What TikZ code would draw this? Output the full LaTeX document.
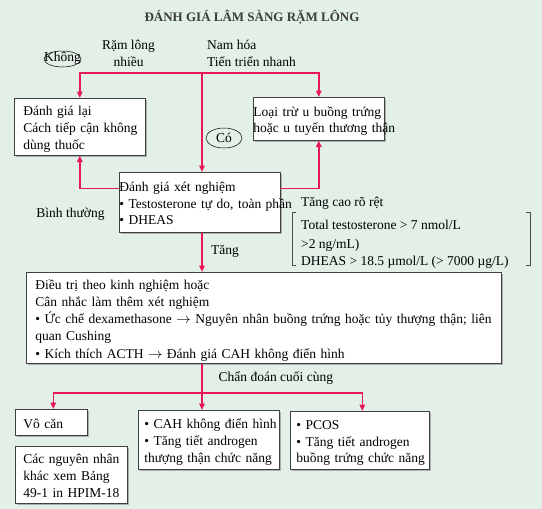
\documentclass[tikz,border=0pt]{standalone}
\usepackage{fontspec}
\setmainfont{Liberation Serif}
\usepackage{tikz}
\usetikzlibrary{shapes.geometric, arrows.meta, positioning, shadows, calc}
\definecolor{nenXanh}{RGB}{226,240,231}
\definecolor{doMuiTen}{RGB}{232,24,86}
\definecolor{chuTieuDe}{RGB}{60,60,60}
\newcommand{\dong}[1]{\raisebox{-2.5pt}[\height][\depth]{\begin{tabular}{@{}l@{}}#1\end{tabular}}}
\tikzset{
  cd/box/.style={rectangle, draw=black!75, fill=white, line width=0.6pt,
    anchor=north west, inner ysep=0pt,
    font=\fontsize{13.5}{16.7}\selectfont,
    drop shadow={shadow xshift=2pt, shadow yshift=-2pt, fill=black!55}},
  cd/oval/.style={draw=black, line width=0.5pt},
  cd/lbl/.style={inner sep=0pt, align=left, font=\fontsize{13.5}{16.5}\selectfont},
  cd/arr/.style={-{Triangle[length=6.5pt,width=5.5pt]}, line width=1.6pt,
    draw=doMuiTen},
  cd/line/.style={line width=1.6pt, draw=doMuiTen},
  cd/brk/.style={line width=0.6pt, draw=black!70}
}
\begin{document}
\begin{tikzpicture}[x=1pt, y=-1pt]
  \fill[nenXanh] (0,0) rectangle (542,509);
  \useasboundingbox (0,0) rectangle (542,509);

  % tieu de va nhan phia tren
  \node[cd/lbl, font=\fontsize{13}{15}\selectfont\bfseries\color{chuTieuDe}]
    (tieude) at (252,17) {ĐÁNH GIÁ LÂM SÀNG RẶM LÔNG};
  \node[cd/lbl, align=center] (ramlong) at (128.5,53.5) {Rặm lông\\nhiều};
  \node[cd/lbl, anchor=west] (namhoa) at (207,53.5) {Nam hóa\\Tiến triển nhanh};
  \node[cd/lbl] (khong) at (62.5,58.5) {Không};
  \draw[cd/oval] (62.5,59) ellipse [x radius=18.5, y radius=8];
  \node[cd/lbl] (co) at (224,138) {Có};
  \draw[cd/oval] (224,138) ellipse [x radius=18, y radius=10];

  % cac hop
  \node[cd/box, text width=113pt, inner xsep=9pt, minimum height=57pt]
    (danhgialai) at (14,98) {\dong{Đánh giá lại\\Cách tiếp cận không\\dùng thuốc}};
  \node[cd/box, text width=131pt, inner xsep=0pt, minimum height=43pt]
    (loaitru) at (253,97) {\dong{Loại trừ u buồng trứng\\hoặc u tuyến thương thận}};
  \node[cd/box, text width=160pt, inner xsep=0.5pt, minimum height=60pt]
    (xetnghiem) at (118.5,172) {\dong{Đánh giá xét nghiệm\\• Testosterone tự do, toàn phần\\• DHEAS}};
  \node[cd/box, text width=457pt, inner xsep=9pt, minimum height=91pt,
    font=\fontsize{13.5}{17.2}\selectfont]
    (dieutri) at (26,272) {\dong{Điều trị theo kinh nghiệm hoặc\\Cân nhắc làm thêm xét nghiệm\\
      • Ức chế dexamethasone $\rightarrow$ Nguyên nhân buồng trứng hoặc tủy thượng thận; liên\\
      quan Cushing\\• Kích thích ACTH $\rightarrow$ Đánh giá CAH không điển hình}};
  \node[cd/box, text width=56pt, inner xsep=8pt, minimum height=26pt]
    (vocan) at (15,409) {\dong{Vô căn}};
  \node[cd/box, text width=96pt, inner xsep=8pt, minimum height=57pt]
    (khac) at (15,446) {\dong{Các nguyên nhân\\khác xem Bảng\\49-1 in HPIM-18}};
  \node[cd/box, text width=129pt, inner xsep=6pt, minimum height=59pt]
    (cah) at (138,410) {\dong{• CAH không điển hình\\• Tăng tiết androgen\\thượng thận chức năng}};
  \node[cd/box, text width=127pt, inner xsep=6pt, minimum height=58pt]
    (pcos) at (290,411) {\dong{• PCOS\\• Tăng tiết androgen\\buồng trứng chức năng}};

  % nhan ben canh
  \node[cd/lbl] (binhthuong) at (70.5,214) {Bình thường};
  \node[cd/lbl, anchor=west] (tangcao) at (301,203) {Tăng cao rõ rệt};
  \node[cd/lbl, anchor=west] (nguong1) at (301,225) {Total testosterone > 7 nmol/L};
  \node[cd/lbl, anchor=west] (nguong2) at (301,245) {>2 ng/mL)};
  \node[cd/lbl, anchor=west] (nguong3) at (301,262) {DHEAS > 18.5 µmol/L (> 7000 µg/L)};
  \node[cd/lbl, anchor=west] (tang) at (211,251.5) {Tăng};
  \node[cd/lbl, anchor=west] (chandoan) at (218.5,378.5) {Chẩn đoán cuối cùng};

  \draw[cd/brk] (296,212) -- (292,212) -- (292,265) -- (296,265);
  \draw[cd/brk] (526,212) -- (530,212) -- (530,265) -- (526,265);

  % duong noi
  \coordinate (tach1) at (202,72.7);
  \coordinate (tach2) at (202,393);
  \draw[cd/arr] (tach1) -| (danhgialai.north);
  \draw[cd/arr] (tach1) -| (loaitru.north);
  \draw[cd/arr] (tach1) -- (tach1 |- xetnghiem.north);
  \draw[cd/arr] ([yshift=14pt]xetnghiem.west) -| (danhgialai.south);
  \draw[cd/arr] ([yshift=14pt]xetnghiem.east) -| (loaitru.south);
  \draw[cd/arr] (tach1 |- xetnghiem.south) -- (tach1 |- dieutri.north);
  \draw[cd/line] (tach2 |- dieutri.south) -- (tach2);
  \draw[cd/arr] (tach2) -- (tach2 |- cah.north);
  \draw[cd/arr] (tach2) -| ([xshift=2pt]vocan.north);
  \draw[cd/arr] (tach2) -| ([xshift=2.5pt]pcos.north);
\end{tikzpicture}
\end{document}
